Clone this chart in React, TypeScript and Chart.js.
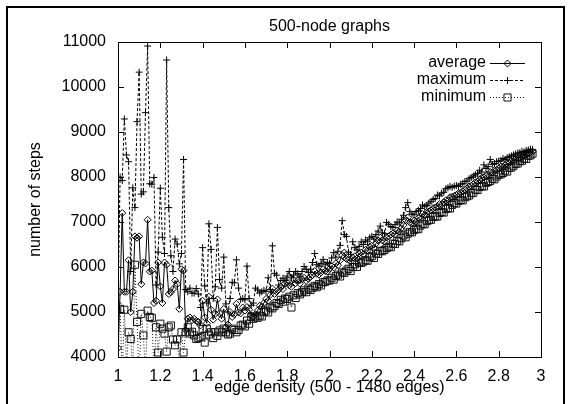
import React, { useEffect, useRef } from "react";
import { Chart, registerables } from "chart.js";

Chart.register(...registerables);

const FONT = "'Liberation Sans', Arial, Helvetica, sans-serif";

// categories: graphs with 500 nodes, 500..1480 edges in steps of 5
const NODES = 500;
const EDGE_FIRST = 500;
const EDGE_STEP = 5;

const TITLE = "500-node graphs";
const X_TITLE = "edge density (500 - 1480 edges)";
const Y_TITLE = "number of steps";
const SERIES_NAMES = ["average", "maximum", "minimum"];
const X_TICKS = [1, 1.2, 1.4, 1.6, 1.8, 2, 2.2, 2.4, 2.6, 2.8, 3];
const Y_TICKS = [4000, 5000, 6000, 7000, 8000, 9000, 10000, 11000];

const averageSteps = [
  4200, 5450, 7200, 5450, 5450, 6150, 5000, 5450, 6680, 6650,
  6680, 5620, 6100, 6080, 7050, 5900, 5920, 5200, 5250, 6100,
  5570, 5200, 6100, 6050, 5400, 5440, 5510, 5700, 5620, 5070,
  5950, 5920, 4600, 4850, 4880, 4820, 4850, 4800, 4780, 4700,
  5250, 4880, 4750, 5340, 5050, 4830, 4960, 5280, 4970, 4850,
  5070, 4660, 4720, 5000, 4890, 4950, 5180, 4990, 4970, 5100,
  5030, 5110, 5050, 4920, 4900, 4950, 5030, 5140, 5120, 5200,
  5290, 5250, 5380, 5520, 5400, 5450, 5500, 5560, 5510, 5630,
  5660, 5590, 5560, 5720, 5640, 5700, 5630, 5730, 5760, 5690,
  5740, 5780, 5820, 5910, 5850, 5830, 5880, 5950, 5910, 5900,
  5960, 6020, 5990, 6080, 6040, 6150, 6260, 6320, 6180, 6170,
  6120, 6210, 6240, 6190, 6300, 6320, 6280, 6380, 6370, 6450,
  6470, 6420, 6520, 6590, 6650, 6590, 6570, 6660, 6680, 6720,
  6750, 6730, 6810, 6790, 6860, 6930, 7040, 7100, 6990, 6980,
  7030, 7010, 7090, 7120, 7180, 7150, 7220, 7230, 7260, 7310,
  7320, 7340, 7400, 7390, 7440, 7480, 7470, 7550, 7560, 7580,
  7600, 7640, 7650, 7680, 7730, 7740, 7790, 7800, 7840, 7880,
  7890, 7950, 7980, 7990, 8040, 8050, 8110, 8100, 8150, 8160,
  8190, 8230, 8220, 8270, 8300, 8310, 8360, 8360, 8400, 8410,
  8440, 8450, 8480, 8500, 8520, 8550, 8560,
];

const maximumSteps = [
  5200, 8000, 7920, 9290, 8490, 8340, 5900, 7760, 7320, 9230,
  10330, 7620, 7670, 9430, 10910, 7850, 7840, 7990, 5600, 6330,
  7750, 6660, 6300, 10600, 7320, 6250, 5900, 6620, 6510, 6070,
  6300, 8390, 5500, 5450, 5530, 5420, 5420, 5520, 5400, 5100,
  6430, 5580, 5200, 6960, 6390, 5300, 5560, 6880, 5720, 5530,
  6220, 5180, 5000, 5300, 5660, 5650, 6160, 5530, 5280, 5300,
  5270, 6020, 5300, 5150, 5200, 5530, 5490, 5420, 5450, 5480,
  5460, 5760, 5500, 6470, 5860, 5820, 5600, 5700, 5750, 5700,
  5800, 5900, 5760, 5820, 5900, 5850, 5780, 5900, 6010, 5950,
  5880, 5950, 6100, 6300, 6050, 6020, 6080, 6170, 6050, 6100,
  6080, 6200, 6320, 6220, 6350, 6480, 7030, 6720, 6680, 6330,
  6280, 6560, 6430, 6380, 6460, 6560, 6500, 6600, 6560, 6650,
  6680, 6620, 6720, 6800, 6910, 6760, 6740, 6990, 6950, 6900,
  6880, 6940, 7000, 6980, 7060, 7150, 7320, 7430, 7230, 7180,
  7160, 7230, 7260, 7300, 7380, 7340, 7370, 7420, 7460, 7500,
  7520, 7600, 7580, 7640, 7660, 7740, 7760, 7790, 7770, 7800,
  7810, 7790, 7840, 7860, 7900, 7910, 7960, 7990, 8020, 8050,
  8080, 8150, 8110, 8270, 8190, 8230, 8390, 8280, 8300, 8340,
  8350, 8370, 8410, 8390, 8430, 8450, 8470, 8490, 8510, 8530,
  8540, 8570, 8560, 8590, 8600, 8620, 8610,
];

const minimumSteps = [
  3900, 5070, 3600, 5050, 3800, 4550, 4400, 3700, 6050, 4780,
  3500, 4960, 4480, 3600, 5030, 4890, 4870, 3700, 4660, 4100,
  4740, 4630, 4520, 4120, 4660, 4700, 4390, 4260, 4390, 3800,
  4550, 4100, 4550, 4660, 4520, 4560, 4480, 4400, 4420, 4440,
  4620, 4320, 4630, 4500, 4550, 4420, 4550, 4470, 4590, 4550,
  4630, 4550, 4500, 4520, 4630, 4600, 4550, 4600, 4700, 4720,
  4680, 4810, 4740, 4890, 4850, 4900, 4870, 4920, 4900, 5000,
  5030, 4990, 5100, 5080, 5130, 5200, 5180, 5270, 5230, 5300,
  5290, 5340, 5100, 5370, 5310, 5420, 5390, 5440, 5480, 5440,
  5520, 5490, 5540, 5580, 5550, 5620, 5590, 5660, 5670, 5700,
  5700, 5760, 5720, 5800, 5830, 5790, 5880, 5870, 5920, 5960,
  5910, 6000, 6060, 6000, 6100, 6090, 6120, 6150, 6140, 6220,
  6240, 6200, 6300, 6290, 6360, 6350, 6380, 6420, 6450, 6440,
  6520, 6510, 6580, 6570, 6640, 6700, 6660, 6740, 6780, 6770,
  6820, 6850, 6840, 6920, 6960, 6950, 7020, 7040, 7050, 7110,
  7130, 7120, 7200, 7220, 7210, 7290, 7310, 7300, 7380, 7420,
  7410, 7470, 7490, 7480, 7550, 7570, 7590, 7640, 7650, 7720,
  7710, 7780, 7800, 7790, 7870, 7890, 7910, 7960, 7950, 8010,
  8050, 8060, 8090, 8140, 8120, 8200, 8210, 8250, 8290, 8300,
  8350, 8360, 8410, 8400, 8470, 8480, 8520,
];

const toPoints = (vals: number[]) =>
  vals.map((v, i) => ({ x: (EDGE_FIRST + EDGE_STEP * i) / NODES, y: v }));

const STYLES = [
  { dash: [] as number[], point: "rectRot", radius: 3.5, color: "#000" },
  { dash: [3, 2], point: "cross", radius: 3.5, color: "#000" },
  { dash: [1, 2], point: "rect", radius: 5, color: "#111" },
];

function drawMarker(ctx: CanvasRenderingContext2D, kind: string, x: number, y: number, r: number) {
  ctx.beginPath();
  if (kind === "rectRot") {
    ctx.moveTo(x - r, y);
    ctx.lineTo(x, y - r);
    ctx.lineTo(x + r, y);
    ctx.lineTo(x, y + r);
    ctx.closePath();
  } else if (kind === "cross") {
    ctx.moveTo(x - r, y);
    ctx.lineTo(x + r, y);
    ctx.moveTo(x, y - r);
    ctx.lineTo(x, y + r);
  } else {
    const s = r * Math.SQRT1_2;
    ctx.rect(x - s, y - s, 2 * s, 2 * s);
  }
  ctx.stroke();
}

const decorPlugin = {
  id: "decor",
  afterDraw(chart: any) {
    const ctx: CanvasRenderingContext2D = chart.ctx;
    const { left, right, top, bottom } = chart.chartArea;
    const xs = chart.scales.x;
    const ys = chart.scales.y;
    ctx.save();
    ctx.strokeStyle = "#000";
    ctx.lineWidth = 1;
    ctx.setLineDash([]);
    ctx.strokeRect(Math.round(left) + 0.5, Math.round(top) + 0.5, Math.round(right - left), Math.round(bottom - top));
    const tl = 6;
    ctx.beginPath();
    X_TICKS.forEach((v) => {
      const px = Math.round(xs.getPixelForValue(v)) + 0.5;
      ctx.moveTo(px, bottom);
      ctx.lineTo(px, bottom - tl);
      ctx.moveTo(px, top);
      ctx.lineTo(px, top + tl);
    });
    Y_TICKS.forEach((v) => {
      const py = Math.round(ys.getPixelForValue(v)) + 0.5;
      ctx.moveTo(left, py);
      ctx.lineTo(left + tl, py);
      ctx.moveTo(right, py);
      ctx.lineTo(right - tl, py);
    });
    ctx.stroke();
    ctx.lineWidth = 2;
    ctx.strokeRect(7, 7, 557, 430);
    ctx.fillStyle = "#000";
    ctx.font = `16px ${FONT}`;
    ctx.textAlign = "center";
    ctx.textBaseline = "middle";
    ctx.fillText(TITLE, (left + right) / 2, 27);
    ctx.fillText(X_TITLE, (left + right) / 2, 388);
    ctx.save();
    ctx.translate(36, (top + bottom) / 2);
    ctx.rotate(-Math.PI / 2);
    ctx.fillText(Y_TITLE, 0, 0);
    ctx.restore();
    const rows = [63, 80, 97];
    ctx.textAlign = "right";
    SERIES_NAMES.forEach((name, i) => {
      const y = rows[i];
      ctx.fillStyle = "#000";
      ctx.fillText(name, 486, y);
      const st = STYLES[i];
      ctx.strokeStyle = st.color;
      ctx.lineWidth = 1;
      ctx.setLineDash(st.dash);
      ctx.beginPath();
      ctx.moveTo(490, Math.round(y) + 0.5);
      ctx.lineTo(525, Math.round(y) + 0.5);
      ctx.stroke();
      ctx.setLineDash([]);
      drawMarker(ctx, st.point, 507.5, Math.round(y) + 0.5, st.radius);
    });
    ctx.restore();
  },
};

export default function App() {
  const ref = useRef<HTMLCanvasElement | null>(null);

  useEffect(() => {
    document.body.style.margin = "0";
    const canvas = ref.current;
    if (!canvas) return;
    const seriesVals = [averageSteps, maximumSteps, minimumSteps];
    const chart = new Chart(canvas, {
      type: "line",
      data: {
        datasets: SERIES_NAMES.map((name, i) => ({
          label: name,
          data: toPoints(seriesVals[i]),
          borderColor: STYLES[i].color,
          borderWidth: 1,
          borderDash: STYLES[i].dash,
          pointStyle: STYLES[i].point as any,
          pointRadius: STYLES[i].radius,
          pointBorderWidth: 1,
          pointBorderColor: STYLES[i].color,
          pointBackgroundColor: "rgba(0,0,0,0)",
          fill: false,
          tension: 0,
        })),
      },
      options: {
        animation: false,
        responsive: false,
        devicePixelRatio: 1,
        layout: { padding: { left: 0, right: 30, top: 42, bottom: 0 }, autoPadding: false },
        plugins: {
          legend: { display: false },
          tooltip: { enabled: false },
          title: { display: false },
        },
        scales: {
          x: {
            type: "linear",
            min: 1,
            max: 3,
            afterBuildTicks: (s: any) => {
              s.ticks = X_TICKS.map((v) => ({ value: v }));
            },
            afterFit: (s: any) => {
              s.height = 47;
            },
            grid: { display: false, drawTicks: false },
            border: { display: false },
            ticks: {
              autoSkip: false,
              maxRotation: 0,
              padding: 10,
              color: "#000",
              font: { family: FONT, size: 16 },
              callback: (v: any) => String(Math.round(Number(v) * 10) / 10),
            },
          },
          y: {
            type: "linear",
            min: 4000,
            max: 11000,
            afterBuildTicks: (s: any) => {
              s.ticks = Y_TICKS.map((v) => ({ value: v }));
            },
            afterFit: (s: any) => {
              s.width = 118;
            },
            grid: { display: false, drawTicks: false },
            border: { display: false },
            ticks: {
              autoSkip: false,
              padding: 12,
              color: "#000",
              font: { family: FONT, size: 16 },
              callback: (v: any) => String(v),
            },
          },
        },
      },
      plugins: [decorPlugin],
    });
    return () => chart.destroy();
  }, []);

  return (
    <div style={{ position: "absolute", left: 0, top: 0, width: 571, height: 404, background: "#fff" }}>
      <canvas ref={ref} width={571} height={404} style={{ display: "block", width: 571, height: 404 }} />
    </div>
  );
}
